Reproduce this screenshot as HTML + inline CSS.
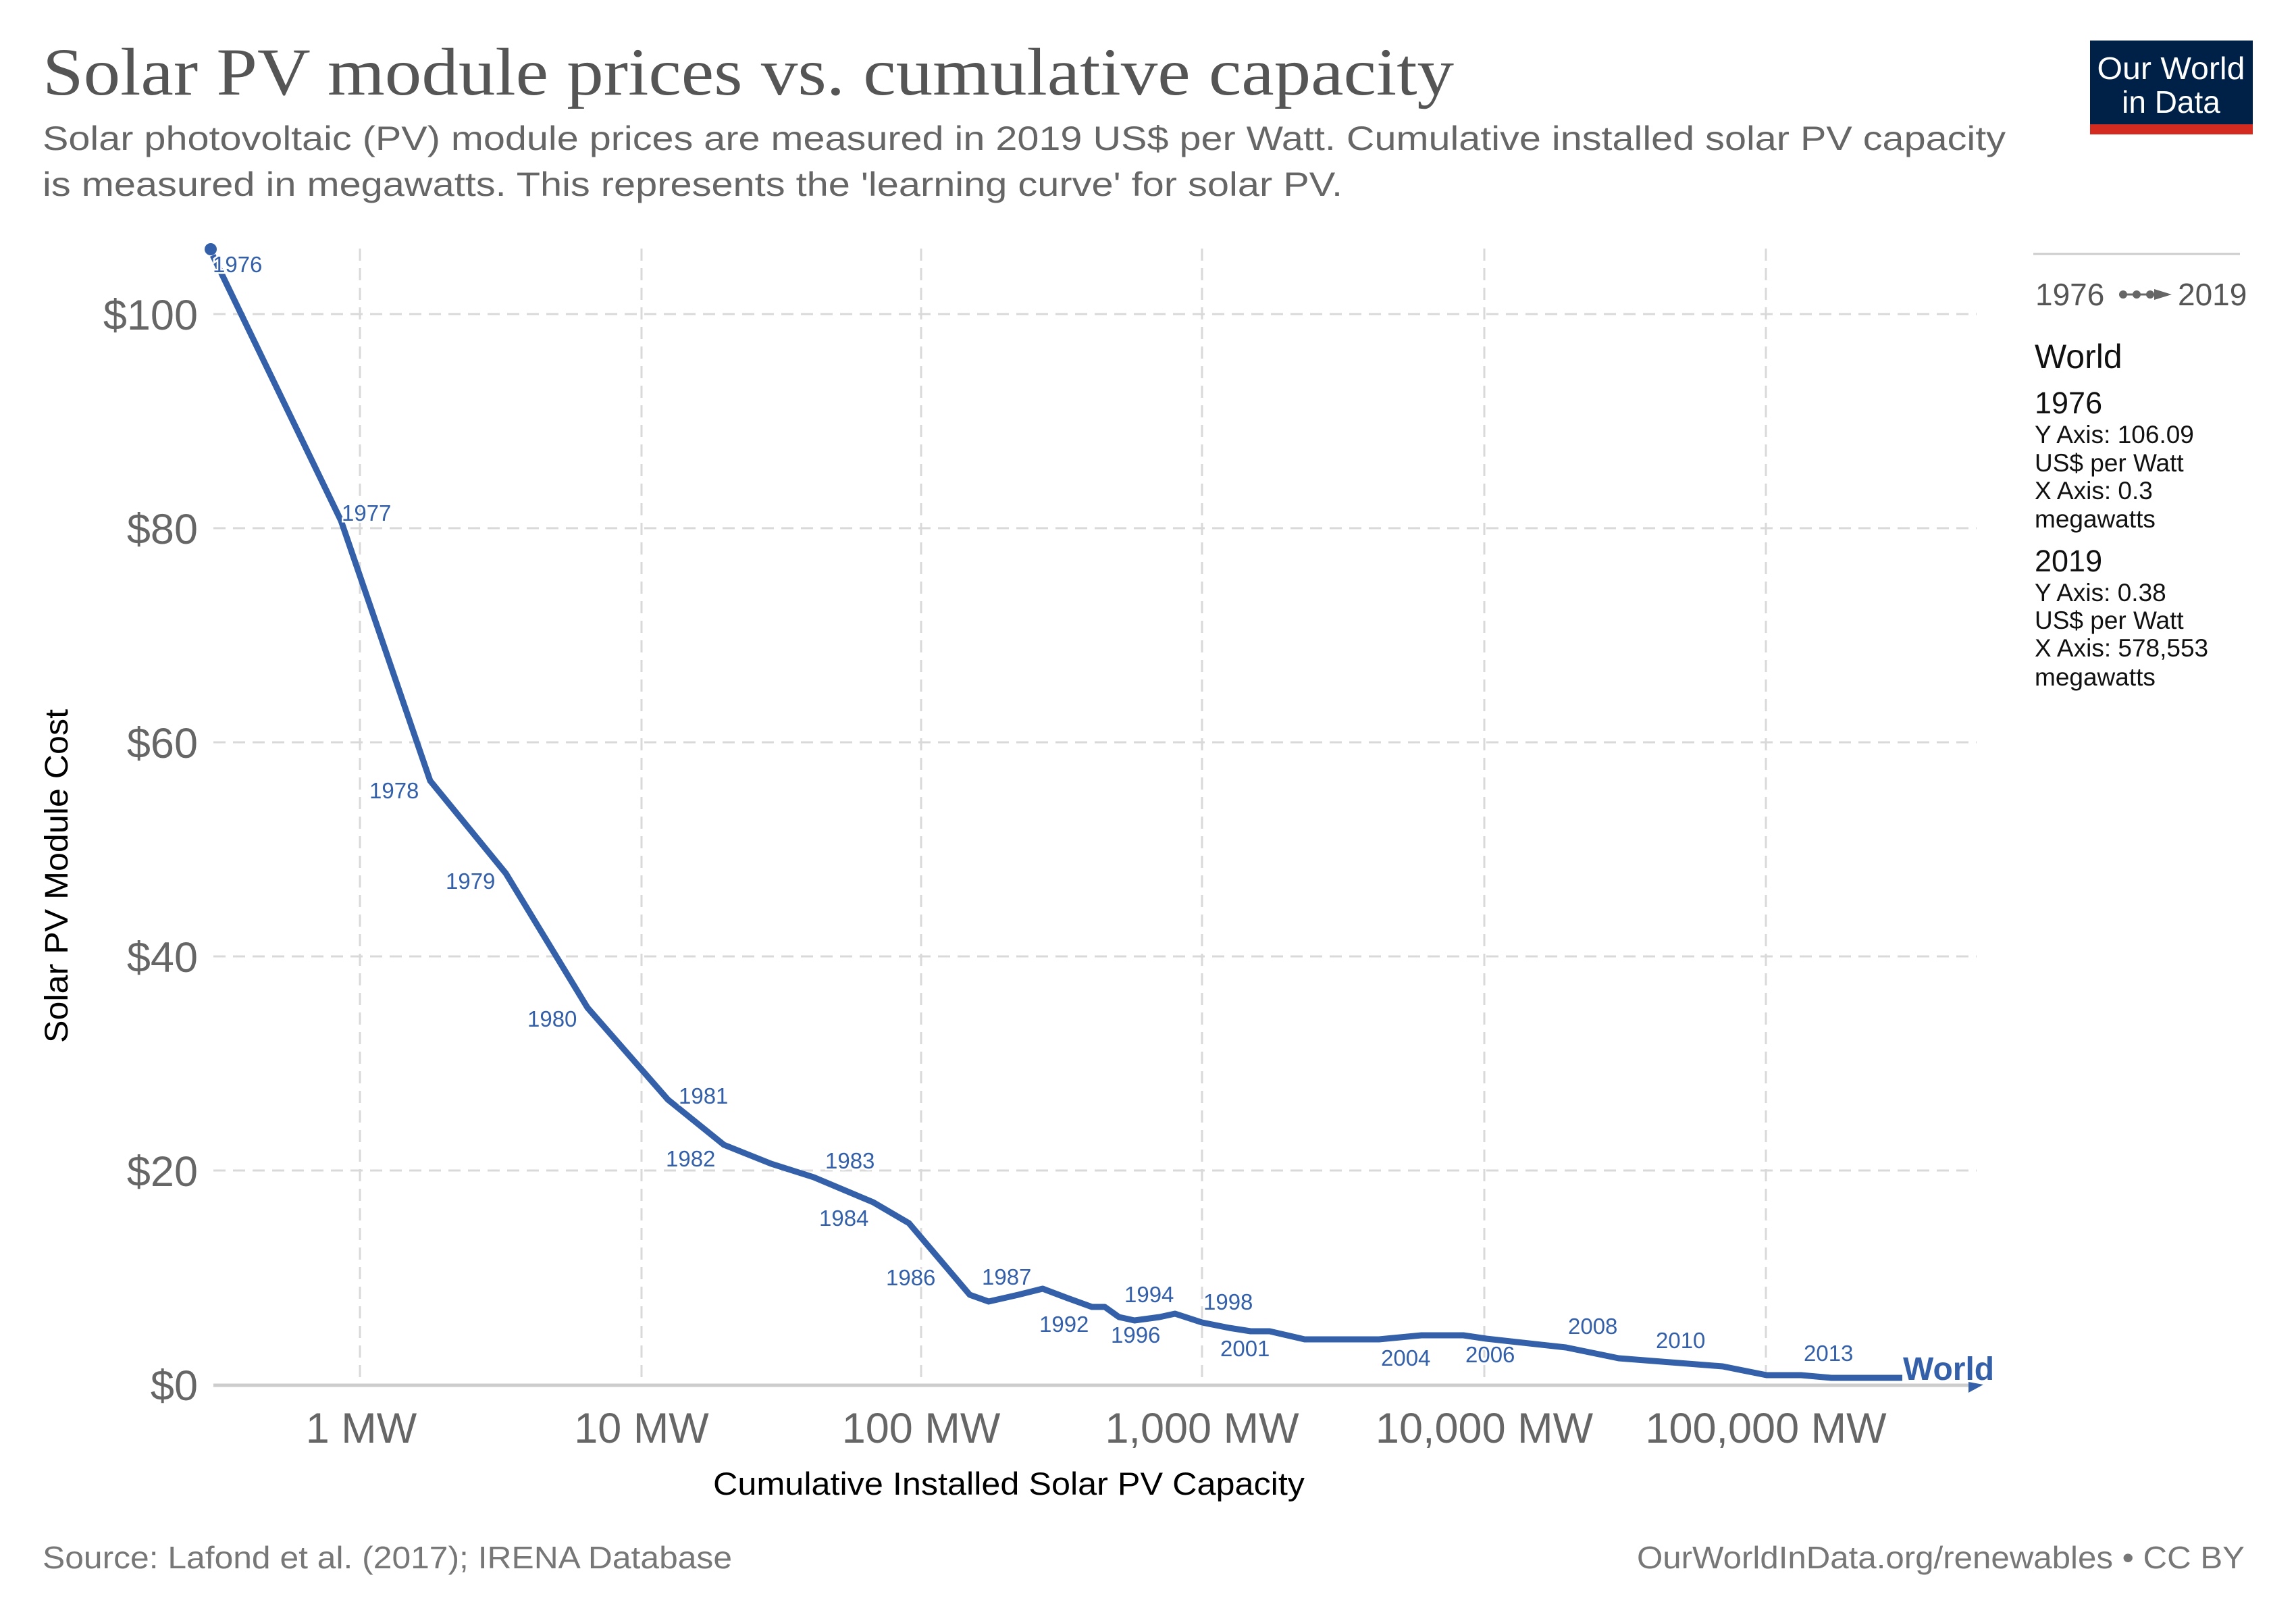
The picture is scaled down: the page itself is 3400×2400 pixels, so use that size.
<!DOCTYPE html>
<html><head><meta charset="utf-8"><style>
html,body{margin:0;padding:0;background:#fff;}
svg{display:block;}
text{font-family:"Liberation Sans",Arial,sans-serif;}
</style></head><body>
<svg width="3400" height="2400" viewBox="0 0 3400 2400" xmlns="http://www.w3.org/2000/svg">
<rect width="3400" height="2400" fill="#fff"/>
<!-- title -->
<text x="63" y="140" font-family="Liberation Serif, serif" style="font-family:'Liberation Serif',serif" font-size="100" fill="#555" textLength="2090" lengthAdjust="spacingAndGlyphs">Solar PV module prices vs. cumulative capacity</text>
<text x="63" y="222" font-size="50" fill="#666" textLength="2907" lengthAdjust="spacingAndGlyphs">Solar photovoltaic (PV) module prices are measured in 2019 US$ per Watt. Cumulative installed solar PV capacity</text>
<text x="63" y="290" font-size="50" fill="#666" textLength="1925" lengthAdjust="spacingAndGlyphs">is measured in megawatts. This represents the 'learning curve' for solar PV.</text>
<!-- logo -->
<rect x="3095" y="60" width="241" height="126" fill="#002147"/>
<rect x="3095" y="184" width="241" height="15" fill="#d42b21"/>
<text x="3215" y="117" font-size="46" fill="#fff" text-anchor="middle" textLength="219" lengthAdjust="spacingAndGlyphs">Our World</text>
<text x="3215" y="167" font-size="46" fill="#fff" text-anchor="middle">in Data</text>
<!-- grid -->
<g stroke="#d9d9d9" stroke-width="3" stroke-dasharray="18,11" fill="none">
<line x1="316" y1="1733" x2="2927" y2="1733"/>
<line x1="316" y1="1416" x2="2927" y2="1416"/>
<line x1="316" y1="1099" x2="2927" y2="1099"/>
<line x1="316" y1="782" x2="2927" y2="782"/>
<line x1="316" y1="465" x2="2927" y2="465"/>
<line x1="533" y1="368" x2="533" y2="2050"/>
<line x1="950" y1="368" x2="950" y2="2050"/>
<line x1="1364" y1="368" x2="1364" y2="2050"/>
<line x1="1780" y1="368" x2="1780" y2="2050"/>
<line x1="2198" y1="368" x2="2198" y2="2050"/>
<line x1="2615" y1="368" x2="2615" y2="2050"/>
</g>
<line x1="316" y1="2051" x2="2927" y2="2051" stroke="#ccc" stroke-width="5"/>
<!-- y ticks -->
<g font-size="63" fill="#666" text-anchor="end">
<text x="293" y="2073">$0</text>
<text x="293" y="1756">$20</text>
<text x="293" y="1439">$40</text>
<text x="293" y="1122">$60</text>
<text x="293" y="805">$80</text>
<text x="293" y="488">$100</text>
</g>
<!-- x ticks -->
<g font-size="63" fill="#666" text-anchor="middle">
<text x="535" y="2136">1 MW</text>
<text x="950" y="2136">10 MW</text>
<text x="1364" y="2136">100 MW</text>
<text x="1780" y="2136">1,000 MW</text>
<text x="2198" y="2136">10,000 MW</text>
<text x="2615" y="2136">100,000 MW</text>
</g>
<text x="1494" y="2213" font-size="47" fill="#000" text-anchor="middle" textLength="876" lengthAdjust="spacingAndGlyphs">Cumulative Installed Solar PV Capacity</text>
<text transform="translate(100,1297) rotate(-90)" font-size="48" fill="#000" text-anchor="middle" textLength="494" lengthAdjust="spacingAndGlyphs">Solar PV Module Cost</text>
<!-- series -->
<polyline fill="none" stroke="#3360a9" stroke-width="9" stroke-linejoin="round" points="315,378 505,771 637,1156 749,1293 870,1492 989,1628 1072,1695 1142,1723 1205,1743 1293,1780 1346,1811 1436,1917 1464,1927 1508,1917 1544,1908 1581,1922 1617,1935 1636,1935 1657,1950 1680,1955 1717,1950 1740,1945 1780,1958 1820,1966 1852,1971 1880,1971 1932,1983 2042,1983 2105,1977 2167,1977 2201,1982 2319,1995 2397,2011 2551,2023 2616,2036 2667,2036 2712,2040 2817,2040"/>
<circle cx="312" cy="369" r="9" fill="#3360a9"/>
<path d="M2915,2062 L2937,2050 L2915,2046 Z" fill="#3360a9"/>
<text x="2818" y="2043" font-size="48" font-weight="bold" fill="#3360a9" stroke="#fff" stroke-width="6" paint-order="stroke">World</text>
<!-- year labels -->
<g font-size="33" fill="#3360a9" stroke="#fff" stroke-width="5" paint-order="stroke">
<text x="315" y="403">1976</text>
<text x="506" y="771">1977</text>
<text x="547" y="1182">1978</text>
<text x="660" y="1316">1979</text>
<text x="781" y="1520">1980</text>
<text x="1005" y="1634">1981</text>
<text x="986" y="1727">1982</text>
<text x="1222" y="1730">1983</text>
<text x="1213" y="1815">1984</text>
<text x="1312" y="1903">1986</text>
<text x="1454" y="1902">1987</text>
<text x="1539" y="1972">1992</text>
<text x="1665" y="1928">1994</text>
<text x="1645" y="1988">1996</text>
<text x="1782" y="1939">1998</text>
<text x="1807" y="2008">2001</text>
<text x="2045" y="2022">2004</text>
<text x="2170" y="2017">2006</text>
<text x="2322" y="1975">2008</text>
<text x="2452" y="1996">2010</text>
<text x="2671" y="2015">2013</text>
</g>
<!-- legend -->
<line x1="3011" y1="376" x2="3317" y2="376" stroke="#ccc" stroke-width="3"/>
<text x="3014" y="452" font-size="46" fill="#555">1976</text>
<g fill="#666"><circle cx="3144" cy="436" r="6"/><circle cx="3164" cy="436" r="6"/><circle cx="3184" cy="436" r="6"/><line x1="3144" y1="436" x2="3200" y2="436" stroke="#666" stroke-width="3"/><path d="M3190,428 L3216,436 L3190,444 Z"/></g>
<text x="3225" y="452" font-size="46" fill="#555">2019</text>
<text x="3013" y="545" font-size="50" fill="#111">World</text>
<text x="3013" y="612" font-size="45" fill="#111">1976</text>
<g font-size="37" fill="#111">
<text x="3013" y="656">Y Axis: 106.09</text>
<text x="3013" y="698">US$ per Watt</text>
<text x="3013" y="739">X Axis: 0.3</text>
<text x="3013" y="781">megawatts</text>
</g>
<text x="3013" y="846" font-size="45" fill="#111">2019</text>
<g font-size="37" fill="#111">
<text x="3013" y="890">Y Axis: 0.38</text>
<text x="3013" y="931">US$ per Watt</text>
<text x="3013" y="972">X Axis: 578,553</text>
<text x="3013" y="1015">megawatts</text>
</g>
<!-- footer -->
<text x="63" y="2322" font-size="46" fill="#777" textLength="1021" lengthAdjust="spacingAndGlyphs">Source: Lafond et al. (2017); IRENA Database</text>
<text x="3324" y="2322" font-size="46" fill="#777" text-anchor="end" textLength="900" lengthAdjust="spacingAndGlyphs">OurWorldInData.org/renewables • CC BY</text>
</svg>
</body></html>
